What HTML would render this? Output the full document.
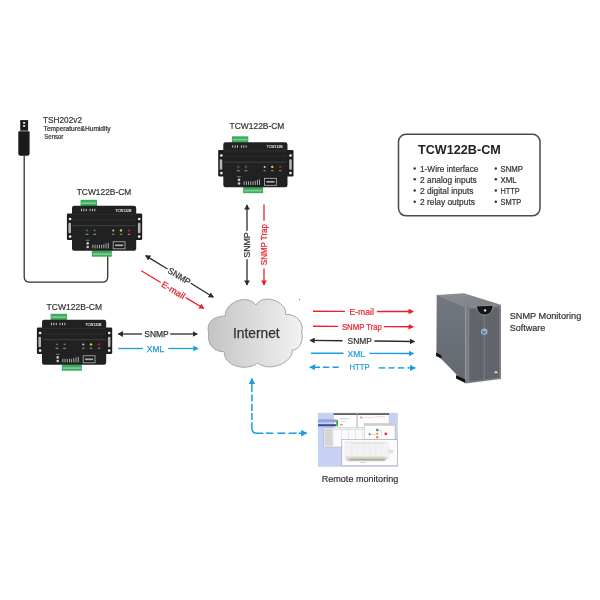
<!DOCTYPE html>
<html><head><meta charset="utf-8">
<style>
html,body{margin:0;padding:0;background:#fff;}
body{width:600px;height:600px;overflow:hidden;}
svg{display:block;filter:blur(0.35px);font-family:"Liberation Sans",sans-serif;}
</style></head>
<body>
<svg width="600" height="600" viewBox="0 0 600 600">
<defs>
  <marker id="ak" markerWidth="5.2" markerHeight="5.8" refX="4.7" refY="2.9" orient="auto" markerUnits="userSpaceOnUse"><path d="M0,0 L5.2,2.9 L0,5.8 z" fill="#2b2b2b"/></marker>
  <marker id="akr" markerWidth="5.2" markerHeight="5.8" refX="0.5" refY="2.9" orient="auto" markerUnits="userSpaceOnUse"><path d="M5.2,0 L0,2.9 L5.2,5.8 z" fill="#2b2b2b"/></marker>
  <marker id="ar" markerWidth="5.2" markerHeight="5.8" refX="4.7" refY="2.9" orient="auto" markerUnits="userSpaceOnUse"><path d="M0,0 L5.2,2.9 L0,5.8 z" fill="#e8222c"/></marker>
  <marker id="ab" markerWidth="5.2" markerHeight="5.8" refX="4.7" refY="2.9" orient="auto" markerUnits="userSpaceOnUse"><path d="M0,0 L5.2,2.9 L0,5.8 z" fill="#1a9de0"/></marker>
  <marker id="abr" markerWidth="5.2" markerHeight="5.8" refX="0.5" refY="2.9" orient="auto" markerUnits="userSpaceOnUse"><path d="M5.2,0 L0,2.9 L5.2,5.8 z" fill="#1a9de0"/></marker>
  <marker id="abL" markerWidth="6.2" markerHeight="6.6" refX="5.7" refY="3.3" orient="auto" markerUnits="userSpaceOnUse"><path d="M0,0 L6.2,3.3 L0,6.6 z" fill="#1a9de0"/></marker>
  <marker id="abrL" markerWidth="6.2" markerHeight="6.6" refX="0.5" refY="3.3" orient="auto" markerUnits="userSpaceOnUse"><path d="M6.2,0 L0,3.3 L6.2,6.6 z" fill="#1a9de0"/></marker>
  <linearGradient id="cg" x1="0" y1="0" x2="1" y2="0">
    <stop offset="0" stop-color="#c4c4c4"/><stop offset="1" stop-color="#f2f2f2"/>
  </linearGradient>
  <g id="dev">
    <!-- ears -->
    <rect x="-5.1" y="7.7" width="75.3" height="26.5" rx="1.2" fill="#1e1e1e"/>
    <circle cx="-1.9" cy="13.2" r="1.35" fill="#f0f0f0"/>
    <circle cx="-1.9" cy="30.8" r="1.35" fill="#f0f0f0"/>
    <rect x="-3.6" y="17" width="2.6" height="10.5" rx="1.1" fill="#b4b4b4"/>
    <circle cx="67.2" cy="13.2" r="1.35" fill="#f0f0f0"/>
    <circle cx="67.2" cy="30.8" r="1.35" fill="#f0f0f0"/>
    <rect x="65.9" y="17" width="2.6" height="10.5" rx="1.1" fill="#b4b4b4"/>
    <!-- connectors -->
    <rect x="8.6" y="-6" width="16.4" height="6.5" fill="#3daa5c"/>
    <rect x="9.5" y="-3.5" width="14.5" height="1.6" fill="#7fcf96"/>
    <rect x="19.8" y="44.5" width="20" height="6.4" fill="#3daa5c"/>
    <rect x="20.8" y="47.5" width="18" height="1.6" fill="#7fcf96"/>
    <!-- body -->
    <rect x="0" y="0" width="64.2" height="45" rx="2.2" fill="#212121"/>
    <rect x="0.5" y="8" width="63.2" height="1" fill="#2f2f2f"/>
    <rect x="0.5" y="13.5" width="63.2" height="1" fill="#2f2f2f"/>
    <rect x="0.5" y="19.3" width="63.2" height="1.1" fill="#3c3c3c"/>
    <!-- top marks -->
    <g fill="#d8d8d8">
      <rect x="9" y="3" width="0.9" height="2.4"/><rect x="11.4" y="3" width="0.9" height="2.4"/><rect x="13.8" y="3" width="0.9" height="2.4"/>
      <rect x="17.6" y="3" width="0.9" height="2.4"/><rect x="20" y="3" width="0.9" height="2.4"/><rect x="22.4" y="3" width="0.9" height="2.4"/>
    </g>
    <text x="43.5" y="5.8" font-size="3.9" font-weight="bold" fill="#e4e4e4" textLength="16" lengthAdjust="spacingAndGlyphs">TCW122B</text>
    <!-- LEDs -->
    <circle cx="15" cy="24.6" r="1.4" fill="#1d4a26"/><circle cx="15" cy="24.6" r="0.7" fill="#4a9a5a"/>
    <circle cx="22.6" cy="24.6" r="1.4" fill="#1d4a26"/><circle cx="22.6" cy="24.6" r="0.7" fill="#4a9a5a"/>
    <circle cx="41.3" cy="24.6" r="1" fill="#d8d0c0"/>
    <circle cx="49" cy="24.6" r="1.2" fill="#e8c820"/>
    <circle cx="57" cy="24.6" r="1.2" fill="#b0202a"/>
    <g fill="#a8a8a8">
      <rect x="13.6" y="28" width="2.8" height="0.9"/><rect x="21.2" y="28" width="2.8" height="0.9"/>
      <rect x="40.2" y="28" width="2.2" height="0.9"/><rect x="47.8" y="28" width="2.4" height="0.9"/><rect x="55.8" y="28" width="2.4" height="0.9"/>
    </g>
    <!-- button -->
    <rect x="13.8" y="34" width="3.8" height="0.9" fill="#888"/>
    <circle cx="15.7" cy="37.6" r="1.3" fill="#c8c8c8"/>
    <circle cx="15.7" cy="41.2" r="1.3" fill="#c8c8c8"/>
    <!-- terminal marks -->
    <g fill="#b8b8b8">
      <rect x="20.4" y="39" width="0.9" height="3.6"/><rect x="22.6" y="39" width="0.9" height="3.6"/><rect x="24.8" y="39" width="0.9" height="3.6"/>
      <rect x="27" y="39" width="0.9" height="3.6"/><rect x="29.2" y="39" width="0.9" height="3.6"/><rect x="31.4" y="38.4" width="0.9" height="4.2"/>
      <rect x="33.6" y="37.6" width="0.9" height="5"/><rect x="35.8" y="37" width="0.9" height="5.6"/>
    </g>
    <!-- ethernet -->
    <rect x="41.2" y="36" width="11.8" height="7" fill="#1a1a1a" stroke="#bdbdbd" stroke-width="0.8"/>
    <rect x="43" y="38.6" width="8.2" height="1.8" fill="#aaa"/>
  </g>
</defs>

<!-- sensor -->
<rect x="20.2" y="120.1" width="7.9" height="10.6" fill="#1c1c1c"/>
<ellipse cx="24.1" cy="122.9" rx="1.25" ry="0.95" fill="#f2f2f2"/>
<ellipse cx="24.1" cy="125.9" rx="1.25" ry="0.95" fill="#f2f2f2"/>
<path d="M18.3,132.3 Q18.3,131.2 19.5,131.2 H28.5 Q29.6,131.2 29.6,132.3 V153.5 Q29.6,155.8 27.5,155.8 H20.2 Q18.3,155.8 18.3,153.5 Z" fill="#1a1a1a"/>
<path d="M24.2,155.5 V276.8 Q24.2,282.2 29.6,282.2 H102.3 Q107.7,282.2 107.7,276.8 V256" fill="none" stroke="#333" stroke-width="1.3"/>

<g font-size="8.6" fill="#333" stroke="#333" stroke-width="0.2">
<text x="43" y="122.5" textLength="39" lengthAdjust="spacingAndGlyphs">TSH202v2</text>
<text x="43.6" y="130.7" font-size="6.4" stroke-width="0.22" textLength="67" lengthAdjust="spacingAndGlyphs">Temperature&amp;Humidity</text>
<text x="44.3" y="139.3" font-size="6.4" stroke-width="0.22" textLength="19" lengthAdjust="spacingAndGlyphs">Sensor</text>
</g>

<!-- devices -->
<use href="#dev" x="223.3" y="142.3"/>
<use href="#dev" x="72" y="205.8"/>
<use href="#dev" x="42" y="319.8"/>

<g font-size="8.8" fill="#333" stroke="#333" stroke-width="0.2">
<text x="229.6" y="129" textLength="54.8" lengthAdjust="spacingAndGlyphs">TCW122B-CM</text>
<text x="76.7" y="194.7" textLength="54.6" lengthAdjust="spacingAndGlyphs">TCW122B-CM</text>
<text x="46.5" y="310" textLength="55.5" lengthAdjust="spacingAndGlyphs">TCW122B-CM</text>
</g>

<!-- cloud -->
<path d="M225.3,316.1 C224,303 247,293 255.9,305 C263,293 287,301 285.6,314.4 C298,314 304,324 301.7,332 C304,341 299,350 292.4,350.1 C293,362 270,373 257.6,362.9 C247,372 223,366 224.4,351.8 C212,352 207,342 208.8,333.1 C206,324 212,316 225.3,316.1 Z" fill="url(#cg)" stroke="#a4a4a4" stroke-width="1"/>
<text x="233" y="337.9" font-size="14.2" fill="#333" stroke="#333" stroke-width="0.25" textLength="46.6" lengthAdjust="spacingAndGlyphs">Internet</text>

<rect x="299" y="299" width="1" height="1" fill="#7a7a7a"/>
<!-- diagonal arrows -->
<g stroke-width="1.3" fill="none">
  <line x1="145.6" y1="255.6" x2="167.5" y2="269" stroke="#2b2b2b" marker-start="url(#akr)"/>
  <line x1="190.8" y1="283.3" x2="213.4" y2="297.3" stroke="#2b2b2b" marker-end="url(#ak)"/>
  <line x1="141.25" y1="270.8" x2="160.8" y2="282.5" stroke="#e8222c"/>
  <line x1="185.8" y1="297.6" x2="203.9" y2="308.5" stroke="#e8222c" marker-end="url(#ar)"/>
</g>
<text transform="translate(179.2,276.2) rotate(31.6)" x="0" y="3" text-anchor="middle" font-size="8.8" fill="#333" textLength="25" lengthAdjust="spacingAndGlyphs" stroke="#333" stroke-width="0.25">SNMP</text>
<text transform="translate(173.3,290.1) rotate(31.1)" x="0" y="3" text-anchor="middle" font-size="8.8" fill="#e8222c" textLength="26" lengthAdjust="spacingAndGlyphs" stroke="#e8222c" stroke-width="0.25">E-mail</text>

<!-- vertical arrows -->
<g stroke-width="1.3" fill="none">
  <line x1="247" y1="204.9" x2="247" y2="230.75" stroke="#2b2b2b" marker-start="url(#akr)"/>
  <line x1="247" y1="259.25" x2="247" y2="285.1" stroke="#2b2b2b" marker-end="url(#ak)"/>
  <line x1="264" y1="204.5" x2="264" y2="220.8" stroke="#e8222c"/>
  <line x1="264" y1="268.5" x2="264" y2="285.1" stroke="#e8222c" marker-end="url(#ar)"/>
</g>
<text transform="translate(250,245) rotate(-90)" x="0" y="0" text-anchor="middle" font-size="8.8" fill="#333" textLength="25.5" lengthAdjust="spacingAndGlyphs" stroke="#333" stroke-width="0.25">SNMP</text>
<text transform="translate(267.3,244.6) rotate(-90)" x="0" y="0" text-anchor="middle" font-size="8.8" fill="#e8222c" textLength="41.2" lengthAdjust="spacingAndGlyphs" stroke="#e8222c" stroke-width="0.25">SNMP Trap</text>

<!-- left horizontal -->
<g stroke-width="1.3" fill="none">
  <line x1="118.25" y1="334" x2="142" y2="334" stroke="#2b2b2b" marker-start="url(#akr)"/>
  <line x1="170.2" y1="334" x2="197.25" y2="334" stroke="#2b2b2b" marker-end="url(#ak)"/>
  <line x1="118.3" y1="348.5" x2="142.75" y2="348.5" stroke="#1a9de0"/>
  <line x1="168.25" y1="348.5" x2="198" y2="348.5" stroke="#1a9de0" marker-end="url(#ab)"/>
</g>
<text x="144.25" y="337" font-size="8.8" fill="#333" textLength="24.45" lengthAdjust="spacingAndGlyphs" stroke="#333" stroke-width="0.25">SNMP</text>
<text x="146.8" y="351.7" font-size="8.8" fill="#1a9de0" textLength="17.4" lengthAdjust="spacingAndGlyphs" stroke="#1a9de0" stroke-width="0.25">XML</text>

<!-- right horizontal -->
<g stroke-width="1.4" fill="none">
  <line x1="313" y1="311.3" x2="345" y2="311.35" stroke="#e8222c"/>
  <line x1="376.9" y1="311.45" x2="413.2" y2="311.5" stroke="#e8222c" marker-end="url(#ar)"/>
  <line x1="313" y1="326.25" x2="338" y2="326.35" stroke="#e8222c"/>
  <line x1="383.75" y1="326.6" x2="413.2" y2="326.8" stroke="#e8222c" marker-end="url(#ar)"/>
  <line x1="310" y1="340.4" x2="342.5" y2="340.7" stroke="#2b2b2b" marker-start="url(#akr)"/>
  <line x1="374.4" y1="341" x2="414.5" y2="341.5" stroke="#2b2b2b" marker-end="url(#ak)"/>
  <line x1="311" y1="353.2" x2="343.5" y2="353.3" stroke="#1a9de0"/>
  <line x1="369.4" y1="353.4" x2="413.5" y2="353.55" stroke="#1a9de0" marker-end="url(#ab)"/>
  <g stroke="#1a9de0">
    <line x1="309.8" y1="367.25" x2="320" y2="367.3" marker-start="url(#abrL)"/>
    <line x1="322.9" y1="367.25" x2="329.2" y2="367.3"/>
    <line x1="332.5" y1="367.25" x2="338.8" y2="367.3"/>
    <line x1="378.8" y1="367.9" x2="385.4" y2="367.9"/>
    <line x1="388.3" y1="367.9" x2="394.6" y2="367.9"/>
    <line x1="397.9" y1="367.9" x2="404.2" y2="367.9"/>
    <line x1="407.5" y1="367.9" x2="415.3" y2="367.9" marker-end="url(#abL)"/>
  </g>
</g>
<g font-size="8.8" stroke-width="0.2">
<text x="349.4" y="314.75" fill="#e8222c" stroke="#e8222c" textLength="24.6" lengthAdjust="spacingAndGlyphs">E-mail</text>
<text x="341.9" y="329.6" fill="#e8222c" stroke="#e8222c" textLength="40" lengthAdjust="spacingAndGlyphs">SNMP Trap</text>
<text x="347.5" y="344.2" fill="#333" stroke="#333" textLength="24.4" lengthAdjust="spacingAndGlyphs">SNMP</text>
<text x="347.5" y="357" fill="#1a9de0" stroke="#1a9de0" textLength="17.5" lengthAdjust="spacingAndGlyphs">XML</text>
<text x="349.4" y="370.4" fill="#1a9de0" stroke="#1a9de0" textLength="20.35" lengthAdjust="spacingAndGlyphs">HTTP</text>
</g>

<!-- L dashed arrow -->
<g fill="none" stroke="#1a9de0" stroke-width="1.5">
  <line x1="251.9" y1="392.2" x2="251.9" y2="378.6" marker-end="url(#abL)"/>
  <line x1="251.9" y1="394.4" x2="251.9" y2="401.5"/>
  <line x1="251.9" y1="403.7" x2="251.9" y2="410.9"/>
  <line x1="251.9" y1="413" x2="251.9" y2="420"/>
  <path d="M251.9,422.3 V428.2 Q251.9,433.2 256.9,433.2 H263.3"/>
  <line x1="266" y1="433.2" x2="273.3" y2="433.2"/>
  <line x1="277.3" y1="433.2" x2="285.3" y2="433.2"/>
  <line x1="288.7" y1="433.2" x2="296.7" y2="433.2"/>
  <line x1="298.7" y1="433.2" x2="306.8" y2="433.2" marker-end="url(#abL)"/>
</g>

<!-- info box -->
<rect x="398.5" y="134.3" width="141.5" height="81.5" rx="7.5" fill="#fff" stroke="#4a4a4a" stroke-width="1.5"/>
<text x="418" y="153.7" font-size="12.8" font-weight="bold" fill="#222" textLength="82.8" lengthAdjust="spacingAndGlyphs">TCW122B-CM</text>
<g font-size="8.4" fill="#333" stroke="#333" stroke-width="0.2">
  <text x="420" y="171.7" textLength="58.4" lengthAdjust="spacingAndGlyphs">1-Wire interface</text>
  <text x="500.5" y="171.7" textLength="22.5" lengthAdjust="spacingAndGlyphs">SNMP</text>
  <text x="500.5" y="182.5" textLength="16.2" lengthAdjust="spacingAndGlyphs">XML</text>
  <text x="500.5" y="193.7" textLength="19.2" lengthAdjust="spacingAndGlyphs">HTTP</text>
  <text x="500.5" y="205" textLength="20.8" lengthAdjust="spacingAndGlyphs">SMTP</text>
  <text x="420" y="182.5">2 analog inputs</text>
  <text x="420" y="193.7">2 digital inputs</text>
  <text x="420" y="205">2 relay outputs</text>
</g>
<g fill="#333">
  <circle cx="414.7" cy="168.5" r="1.25"/><circle cx="414.7" cy="179.3" r="1.25"/><circle cx="414.7" cy="190.5" r="1.25"/><circle cx="414.7" cy="201.8" r="1.25"/>
  <circle cx="495.8" cy="168.5" r="1.25"/><circle cx="495.8" cy="179.3" r="1.25"/><circle cx="495.8" cy="190.5" r="1.25"/><circle cx="495.8" cy="201.8" r="1.25"/>
</g>

<!-- server -->
<defs>
  <linearGradient id="sideg" x1="0" y1="0" x2="0" y2="1">
    <stop offset="0" stop-color="#73777e"/><stop offset="1" stop-color="#63676e"/>
  </linearGradient>
  <linearGradient id="topg" x1="0" y1="0" x2="1" y2="1">
    <stop offset="0" stop-color="#8c8f94"/><stop offset="1" stop-color="#7c7f85"/>
  </linearGradient>
  <pattern id="mesh" width="1.6" height="1.6" patternUnits="userSpaceOnUse">
    <rect width="1.6" height="1.6" fill="#63666d"/><rect width="0.8" height="0.8" fill="#5b5e65"/>
  </pattern>
</defs>
<polygon points="436.8,294.9 464,293.2 500.9,304.8 465.3,307.3" fill="url(#topg)"/>
<polygon points="436.7,294.7 465.3,307 465.3,383.5 436.4,354" fill="url(#sideg)"/>
<polygon points="465.3,307 501,304.7 501,379 465.3,383.5" fill="#7c8086"/>
<polygon points="469.5,309 499.2,307 499.2,377.5 469.5,381.5" fill="url(#mesh)"/>
<line x1="484.2" y1="314" x2="484.2" y2="379.5" stroke="#8a8e94" stroke-width="0.7"/>
<path d="M476.4,305.9 C477,312.5 481,315 485,315 C489,315 492.6,312 493.2,305.3 Z" fill="#151515" stroke="#9ca0a6" stroke-width="0.8"/>
<circle cx="485.1" cy="310.4" r="1.2" fill="#e8e8e8"/>
<circle cx="484.3" cy="331.6" r="3.2" fill="#b8c0d0"/>
<circle cx="484.3" cy="331.6" r="2.3" fill="#4a88c0"/>
<circle cx="484.6" cy="330.6" r="1" fill="#a8d8f0"/>
<ellipse cx="496" cy="372.3" rx="1.6" ry="1" fill="#e0e0e0"/>
<path d="M436,352.5 L441.5,355.5 L441.5,358.5 L436,356 Z" fill="#111"/>
<path d="M456,375 L465.3,379.5 L465.3,383 L456,378.5 Z" fill="#111"/>

<text x="509.7" y="318.7" font-size="8.8" fill="#333" textLength="71.6" lengthAdjust="spacingAndGlyphs" stroke="#333" stroke-width="0.2">SNMP Monitoring</text>
<text x="509.7" y="330.8" font-size="8.8" fill="#333" textLength="35.6" lengthAdjust="spacingAndGlyphs" stroke="#333" stroke-width="0.2">Software</text>

<!-- remote monitoring -->
<rect x="317.8" y="412.8" width="80" height="54" fill="#c7d1f3"/>
<!-- top-left window -->
<rect x="333.7" y="413.6" width="23" height="15" fill="#fdfdfd" stroke="#b8bcc8" stroke-width="0.5"/>
<rect x="333.7" y="413.4" width="23" height="1.4" fill="#3a3a3a"/>
<rect x="336.2" y="419.8" width="1.8" height="6.4" fill="#3aa84a"/>
<rect x="339.5" y="418.5" width="9" height="0.8" fill="#e0b8b8"/>
<rect x="341" y="421" width="6" height="0.6" fill="#d8d8d8"/>
<rect x="340" y="424" width="3" height="1.2" fill="#e09090"/>
<!-- top-right window -->
<rect x="357.3" y="413.6" width="31.8" height="15" fill="#fdfdfd" stroke="#b8bcc8" stroke-width="0.5"/>
<rect x="357.3" y="413.4" width="31.8" height="1.4" fill="#3a3a3a"/>
<rect x="360" y="416.5" width="2.5" height="2" fill="#e8a8a8"/>
<rect x="364" y="417" width="10" height="0.7" fill="#e0c8c8"/>
<rect x="375" y="416.5" width="10" height="0.7" fill="#e0c8c8"/>
<!-- left bars -->
<rect x="318" y="419.3" width="18" height="3" fill="#95a4d8"/>
<rect x="318" y="424.2" width="18" height="2.1" fill="#3a4c9c"/>
<!-- table window -->
<rect x="323.8" y="427.8" width="42.5" height="19.2" fill="#fbfbfb" stroke="#a8acb8" stroke-width="0.5"/>
<rect x="324.2" y="428.2" width="9" height="18.4" fill="#dcdcdc"/>
<g fill="#c4c4c4">
  <rect x="325.5" y="430" width="6" height="0.5"/><rect x="325.5" y="432" width="6" height="0.5"/><rect x="325.5" y="434" width="6" height="0.5"/>
  <rect x="325.5" y="436" width="6" height="0.5"/><rect x="325.5" y="438" width="6" height="0.5"/><rect x="325.5" y="440" width="6" height="0.5"/>
  <rect x="325.5" y="442" width="6" height="0.5"/><rect x="325.5" y="444" width="6" height="0.5"/>
</g>
<rect x="333.5" y="429.4" width="32.5" height="0.6" fill="#c8c8c8"/>
<g fill="#d4d4d4">
  <rect x="341" y="428.5" width="0.5" height="18"/><rect x="348" y="428.5" width="0.5" height="18"/><rect x="355" y="428.5" width="0.5" height="18"/><rect x="362" y="428.5" width="0.5" height="18"/>
</g>
<!-- right window -->
<rect x="364.2" y="423.6" width="30.8" height="16.2" fill="#fdfdfd" stroke="#b0b4c0" stroke-width="0.5"/>
<rect x="364.2" y="423.6" width="30.8" height="2.2" fill="#cdcdcd"/>
<rect x="369.6" y="428.6" width="0.6" height="10" fill="#e0e0e0"/>
<circle cx="369.6" cy="434.2" r="1" fill="#707070"/>
<rect x="370.5" y="434" width="6" height="0.5" fill="#b0b0b0"/>
<circle cx="377.3" cy="430.1" r="1.3" fill="#3a9a4a"/>
<circle cx="377.3" cy="433.8" r="1.2" fill="#f0a050"/>
<circle cx="377.3" cy="437.2" r="1.2" fill="#f08050"/>
<rect x="379" y="430" width="3" height="0.5" fill="#c8c8c8"/><rect x="381.5" y="430" width="0.5" height="7" fill="#c8c8c8"/>
<circle cx="385.8" cy="433.8" r="1.4" fill="#e03040"/>
<!-- chart window -->
<rect x="341.8" y="439.6" width="55.6" height="26.2" fill="#fdfdfd" stroke="#9ca3c0" stroke-width="0.6"/>
<polygon points="345,441.8 386.5,441.8 388.5,444 388.5,457 384,460.8 346.5,460.8 345,459" fill="#f2f2f2" stroke="#d8d8d8" stroke-width="0.4"/>
<g fill="#e2e2e2">
  <rect x="351" y="442" width="0.4" height="17"/><rect x="357" y="442" width="0.4" height="17"/><rect x="363" y="442" width="0.4" height="17"/><rect x="369" y="442" width="0.4" height="17"/><rect x="375" y="442" width="0.4" height="17"/><rect x="381" y="442" width="0.4" height="17"/>
</g>
<rect x="352" y="443" width="32" height="0.5" fill="#f0c0c0"/>
<polygon points="345.5,456.5 386,456.5 388,458.5 384,461.2 347,461.2" fill="#d8d8d8"/>
<rect x="350" y="457.6" width="34" height="0.7" fill="#d8e090"/>
<rect x="350" y="458.3" width="34" height="0.5" fill="#a8c888"/>
<rect x="349" y="459.5" width="36" height="0.7" fill="#808080"/>
<rect x="350" y="460.2" width="34" height="0.4" fill="#e0a0a0"/>
<polygon points="388.5,449 393,450 394,452.5 388.5,454" fill="#e0e0e0"/>
<rect x="360" y="462.5" width="6" height="0.5" fill="#b0b0b0"/>

<text x="321.7" y="481.7" font-size="9.2" fill="#333" textLength="76.6" lengthAdjust="spacingAndGlyphs" stroke="#333" stroke-width="0.2">Remote monitoring</text>

</svg>
</body></html>
